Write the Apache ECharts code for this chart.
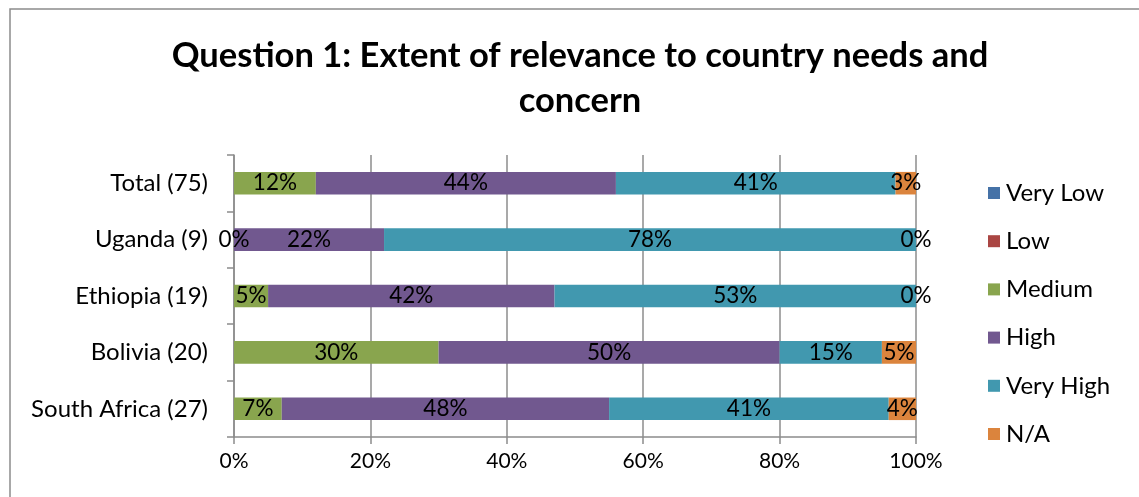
<!DOCTYPE html>
<html><head><meta charset="utf-8">
<script src="https://cdn.jsdelivr.net/npm/echarts@6/dist/echarts.min.js"></script>
<style>html,body{margin:0;padding:0;background:#fff}#c{width:1139px;height:497px}</style>
</head><body><div id="c"></div>
<script>
const categories = ['South Africa (27)', 'Bolivia (20)', 'Ethiopia (19)', 'Uganda (9)', 'Total (75)'];
const seriesNames = ['Very Low', 'Low', 'Medium', 'High', 'Very High', 'N/A'];
const veryLow = [null, null, null, null, null];
const low = [null, null, null, null, null];
const medium = [7, 30, 5, 0, 12];
const high = [48, 50, 42, 22, 44];
const veryHigh = [41, 15, 53, 78, 41];
const na = [4, 5, 0, 0, 3];
const xTicks = [0, 20, 40, 60, 80, 100];
const colors = ['#4572A7', '#AA4643', '#89A54E', '#71588F', '#4198AF', '#DB843D'];
const FONT = 'Lato';

const dataSets = [veryLow, low, medium, high, veryHigh, na];
const chart = echarts.init(document.getElementById('c'));
chart.setOption({
  animation: false,
  textStyle: { fontFamily: FONT },
  title: {
    text: 'Question 1: Extent of relevance to country needs and\nconcern',
    left: 575, top: 28, textAlign: 'center',
    textStyle: { fontFamily: FONT, fontWeight: 'bold', fontSize: 34.5, lineHeight: 45, color: '#000' }
  },
  graphic: [{
    type: 'rect', shape: { x: 10, y: 9, width: 1140, height: 500 },
    style: { fill: 'none', stroke: '#8c8c8c', lineWidth: 1.5 }, silent: true, z: -1
  }],
  legend: {
    orient: 'vertical', left: 983, top: 176, itemWidth: 12, itemHeight: 12, itemGap: 24.2,
    icon: 'rect', data: seriesNames,
    textStyle: { fontFamily: FONT, fontSize: 24, color: '#000', padding: [0, 0, 0, 1] }
  },
  grid: { left: 234, right: 223, top: 155, bottom: 60, containLabel: false },
  xAxis: {
    type: 'value', min: xTicks[0], max: xTicks[xTicks.length - 1], interval: 20,
    axisLine: { show: true, lineStyle: { color: '#8c8c8c', width: 1.5 } },
    axisTick: { show: true, length: 7, lineStyle: { color: '#8c8c8c', width: 1.5 } },
    splitLine: { show: true, lineStyle: { color: '#8c8c8c', width: 1.5 } },
    axisLabel: { formatter: '{value}%', color: '#000', fontSize: 21, margin: 14, fontFamily: FONT }
  },
  yAxis: {
    type: 'category', data: categories,
    axisLine: { show: true, lineStyle: { color: '#8c8c8c', width: 1.5 } },
    axisTick: { show: true, length: 7, inside: false, lineStyle: { color: '#8c8c8c', width: 1.5 } },
    axisLabel: { color: '#000', fontSize: 24, margin: 26, fontFamily: FONT }
  },
  series: seriesNames.map((n, i) => ({
    name: n, type: 'bar', stack: 'total', barWidth: '40%',
    itemStyle: { color: colors[i] },
    label: {
      show: true, position: 'inside', color: '#000', fontSize: 22.5, fontFamily: FONT,
      formatter: p => (p.value === null || p.value === undefined) ? '' : p.value + '%'
    },
    data: dataSets[i]
  }))
});
</script></body></html>
